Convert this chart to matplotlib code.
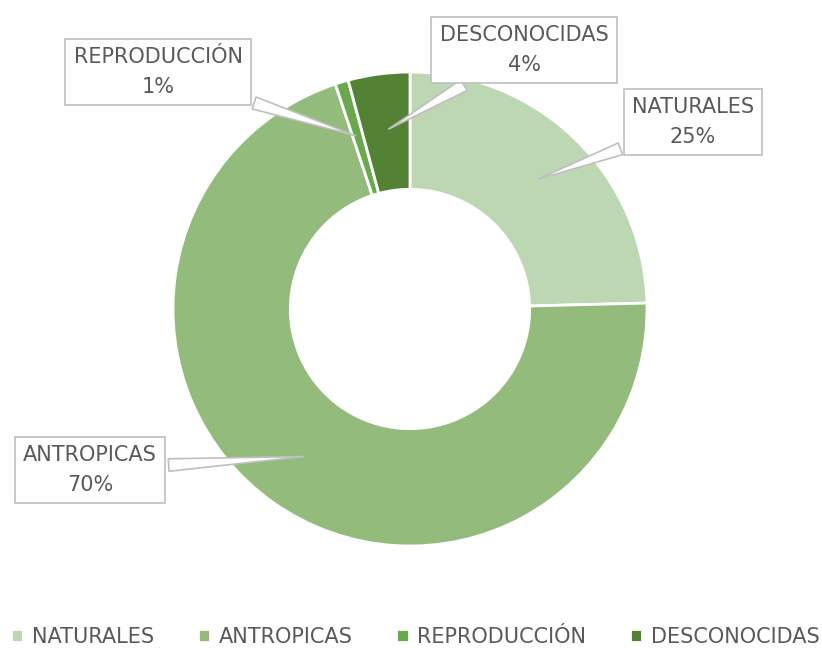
import numpy as np
import matplotlib
matplotlib.use("Agg")
from matplotlib import pyplot as plt

# data
labels = ["NATURALES", "ANTROPICAS", "REPRODUCCIÓN", "DESCONOCIDAS"]
values = [24.6, 70.3, 0.9, 4.2]
pct_text = ["25%", "70%", "1%", "4%"]
colors = ["#bdd7b3", "#93bb7c", "#6aa84f", "#548235"]

plt.rcParams['font.family'] = ['DejaVu Sans']
txt_col = "#595959"

fig = plt.figure(figsize=(8.22, 6.48), dpi=100)
W, H = 822, 648
cx, cy, R = 410, 309, 237
ax = fig.add_axes([(cx - R) / W, (H - cy - R) / H, 2 * R / W, 2 * R / H])

wedges, _ = ax.pie(values, colors=colors, startangle=90, counterclock=False,
                   radius=1, wedgeprops=dict(width=0.495, edgecolor="white", linewidth=2))
ax.set_xlim(-1, 1)
ax.set_ylim(-1, 1)
ax.set_aspect("equal")
ax.axis("off")

# label box positions (pixels in figure)
box_pos = {"NATURALES": (693, 122), "ANTROPICAS": (90, 470),
           "REPRODUCCIÓN": (158, 72), "DESCONOCIDAS": (524, 50)}

for w, lab, p in zip(wedges, labels, pct_text):
    ang = np.deg2rad((w.theta1 + w.theta2) / 2)
    tip = (0.76 * np.cos(ang), 0.76 * np.sin(ang))
    bx, by = box_pos[lab]
    tpos = ((bx - cx) / R, (cy - by) / R)
    ax.annotate(lab + "\n" + p, xy=tip, xytext=tpos, ha="center", va="center",
                fontsize=15, color=txt_col, linespacing=1.6, annotation_clip=False,
                bbox=dict(boxstyle="square,pad=0.4", fc="white", ec="#bfbfbf", lw=1.2),
                arrowprops=dict(arrowstyle="wedge,tail_width=0.6,shrink_factor=0.5",
                                fc="white", ec="#bfbfbf", lw=1.2))

leg = fig.legend(wedges, labels, loc="lower center", bbox_to_anchor=(0.505, -0.027),
                 ncol=4, frameon=False, fontsize=15, handlelength=0.6, handleheight=0.6,
                 handletextpad=0.4, columnspacing=2.1, labelcolor=txt_col)

fig.savefig("out.png", dpi=100)
